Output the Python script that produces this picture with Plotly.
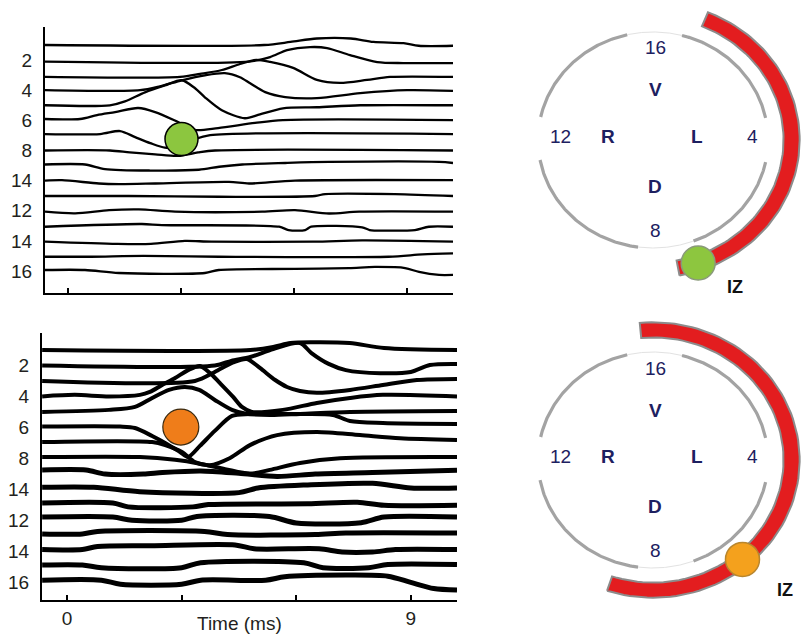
import numpy as np
import plotly.graph_objects as go

# ---------------- data ----------------
channel_tickvals = [2, 4, 6, 8, 10, 12, 14, 16]
channel_ticktext = ["2", "4", "6", "8", "14", "12", "14", "16"]
time_tickvals = [0, 3, 6, 9]
time_ticktext = ["0", "", "", "9"]

# top panel: knot times (ms) and deflections (channel units, + = up) per channel 1..16
top_t = [
    [-0.61, 5.2, 5.9, 6.6, 7.5, 8.1, 8.9, 9.3, 10.21],
    [-0.61, 4.8, 5.36, 5.81, 6.42, 6.87, 7.48, 8.2, 8.89, 10.21],
    [-0.61, 2.97, 3.5, 4.08, 4.56, 4.99, 5.36, 5.97, 6.6, 7.21, 7.93, 8.54, 10.21],
    [-0.61, 1.91, 2.44, 3.02, 3.63, 4.16, 4.56, 4.83, 5.23, 5.76, 6.6, 7.75, 8.99, 10.21],
    [-0.61, 1.11, 1.51, 2.04, 2.57, 3.02, 3.37, 3.63, 4.08, 4.69, 5.09, 5.7, 6.6, 7.75, 10.21],
    [-0.61, 0.32, 0.77, 1.25, 1.86, 2.31, 2.92, 3.37, 3.98, 4.96, 5.7, 10.21],
    [-0.61, 0.85, 1.38, 1.78, 2.18, 2.57, 2.97, 3.37, 3.77, 10.21],
    [-0.61, 1.11, 1.64, 2.31, 2.92, 3.45, 3.9, 10.21],
    [-0.61, 0.45, 0.98, 2.18, 3.47, 4.01, 4.62, 5.76, 6.92, 9.84, 10.21],
    [-0.61, -0.16, 0.82, 1.35, 2.31, 4.27, 4.8, 6.02, 10.21],
    [-0.61, 1.6, 4.0, 6.55, 6.82, 8.67, 10.21],
    [-0.61, 0.19, 1.09, 1.88, 2.84, 5.15, 6.02, 6.92, 7.72, 10.21],
    [-0.61, 1.96, 2.49, 5.6, 5.85, 6.29, 6.45, 7.8, 8.0, 8.41, 9.2, 9.57, 10.21],
    [-0.61, 1.3, 2.2, 3.1, 3.8, 6.5, 7.8, 10.21],
    [-0.61, 0.6, 2.0, 4.0, 8.5, 9.4, 10.21],
    [-0.61, 0.45, 1.35, 3.63, 4.0, 6.02, 7.45, 8.14, 8.94, 9.31, 9.84, 10.21],
]
top_d = [
    [0, 0, 0.2, 0.43, 0.43, 0.2, 0.12, -0.05, -0.05],
    [-0.1, -0.1, 0.2, 0.66, 0.86, 0.8, 0.33, -0.13, -0.2, -0.2],
    [-0.12, -0.12, 0.08, 0.34, 0.74, 1.01, 0.88, 0.48, -0.32, -0.52, -0.32, -0.12, -0.12],
    [0, 0, 0.26, 0.66, 0.99, 1.13, 0.86, 0.46, -0.13, -0.46, -0.53, -0.2, 0, -0.05],
    [0, 0, 0.26, 0.86, 1.32, 1.66, 1.13, 0.53, -0.33, -0.86, -0.6, -0.2, -0.13, 0, 0],
    [0.09, 0.09, 0.35, 0.55, 0.82, 0.55, -0.11, -0.64, -0.51, -0.17, 0.02, 0.02],
    [0.09, 0.09, 0.29, -0.11, -0.51, -0.81, -0.71, -0.24, 0.02, 0.09],
    [0, 0, -0.13, -0.26, -0.36, -0.13, 0, 0],
    [0.07, 0.07, -0.23, -0.33, -0.28, -0.08, 0.07, 0.17, 0.24, 0.24, 0.17],
    [0, 0.03, -0.19, -0.23, -0.19, -0.08, -0.19, 0, 0.03],
    [-0.02, -0.02, -0.07, -0.02, 0.11, 0.11, -0.02],
    [-0.06, -0.17, 0.04, 0.09, -0.06, -0.06, 0.04, -0.18, -0.06, -0.06],
    [-0.06, 0.12, 0.05, -0.06, -0.28, -0.28, -0.06, -0.1, -0.28, -0.32, -0.28, -0.06, -0.06],
    [-0.05, -0.2, -0.2, 0.0, -0.05, -0.05, 0.03, -0.05],
    [-0.05, -0.05, 0.0, -0.05, -0.05, 0.1, 0.17],
    [0.07, 0.07, -0.13, -0.13, 0.07, 0.14, 0.2, 0.27, 0.2, -0.06, -0.26, -0.26],
]

# bottom panel
bot_t = [
    [-0.65, 4.8, 5.4, 5.85, 6.4, 7.4, 8.3, 10.21],
    [-0.65, 3.87, 4.3, 4.8, 5.4, 6.1, 6.4, 6.85, 7.3, 8.2, 9.0, 9.5, 10.21],
    [-0.65, 3.35, 3.87, 4.35, 4.71, 5.05, 5.45, 5.76, 6.1, 6.54, 7.41, 8.27, 9.16, 10.21],
    [-0.65, 0.2, 1.1, 1.91, 2.17, 2.49, 2.83, 3.17, 3.48, 3.74, 4.0, 4.35, 4.58, 4.84, 5.65, 6.54, 7.41, 8.27, 10.21],
    [-0.65, 1.1, 1.78, 2.23, 2.67, 3.09, 3.46, 3.87, 4.32, 4.66, 5.31, 6.1, 7.41, 10.21],
    [-0.65, 1.39, 1.78, 2.23, 2.57, 2.96, 3.17, 3.48, 3.87, 4.32, 4.79, 6.1, 6.96, 7.41, 8.27, 10.21],
    [-0.65, 2.23, 2.57, 3.01, 3.35, 3.74, 4.27, 4.79, 5.5, 6.54, 7.67, 8.72, 10.21],
    [-0.65, 1.91, 2.83, 3.48, 4.14, 4.79, 5.31, 6.1, 7.15, 10.21],
    [-0.65, 0.5, 1.0, 2.0, 2.5, 3.5, 4.5, 5.5, 6.5, 8.0, 10.21],
    [-0.65, 0.7, 1.9, 4.5, 5.0, 6.3, 8.0, 9.0, 10.21],
    [-0.65, 1.2, 1.6, 3.3, 3.7, 6.3, 7.6, 8.3, 10.21],
    [-0.65, 1.2, 1.7, 3.0, 3.4, 5.3, 6.0, 7.7, 8.3, 10.21],
    [-0.65, 0.4, 0.8, 3.6, 4.2, 6.5, 7.3, 10.21],
    [-0.65, 0.4, 0.8, 2.2, 4.4, 4.9, 6.6, 7.2, 8.0, 8.6, 10.21],
    [-0.65, 0.4, 0.9, 3.0, 3.5, 6.2, 6.7, 7.9, 8.4, 10.21],
    [-0.65, 0.9, 1.4, 3.0, 3.5, 5.2, 5.7, 7.3, 8.4, 9.0, 9.6, 10.21],
]
bot_d = [
    [0, 0, 0.2, 0.45, 0.5, 0.45, 0.13, 0],
    [0, 0, 0.3, 0.55, 1.06, 1.45, 0.8, 0.1, -0.3, -0.5, -0.42, 0.03, 0.1],
    [0, 0, 0.58, 1.2, 1.42, 0.84, 0.06, -0.39, -0.65, -0.77, -0.58, -0.26, 0.06, 0.13],
    [0, 0.1, 0, 0.1, 0.29, 0.74, 1.19, 1.7, 1.97, 1.52, 0.87, -0.03, -0.68, -1.0, -0.87, -0.42, -0.1, 0.1, 0],
    [0, 0.13, 0.32, 0.9, 1.42, 1.61, 1.42, 0.77, 0.13, -0.1, -0.2, -0.13, 0, 0.06],
    [0.05, 0.05, -0.04, -0.56, -1.01, -1.59, -1.91, -1.2, -0.23, 0.74, 0.86, 0.86, 0.8, 0.41, 0.28, 0.22],
    [0.05, 0.05, -0.15, -0.6, -1.25, -1.45, -0.98, -0.15, 0.5, 0.7, 0.5, 0.3, 0.18],
    [0.08, 0.08, -0.1, -0.35, -0.7, -1.0, -0.75, -0.3, 0.0, 0.08],
    [0.24, 0.24, -0.02, -0.02, 0.08, 0.18, 0.03, -0.17, -0.02, 0.08, 0.23],
    [0.13, 0.13, -0.16, -0.22, 0.08, 0.28, 0.38, 0.08, 0.08],
    [0.11, 0.11, -0.14, -0.14, 0.01, 0.06, 0.16, -0.04, -0.04],
    [0.2, 0.2, -0.01, -0.01, 0.24, 0.24, -0.18, -0.16, 0.2, 0.2],
    [0.11, 0.11, 0.27, 0.27, 0.07, 0.07, 0.17, 0.17],
    [0.1, 0.1, 0.3, 0.35, 0.4, 0.15, 0.15, -0.06, -0.06, 0.1, 0.1],
    [0.1, 0.1, -0.07, -0.07, 0.25, 0.25, -0.07, -0.07, 0.14, 0.14],
    [0.12, 0.12, -0.14, -0.14, 0.12, 0.12, 0.34, 0.45, 0.38, -0.02, -0.42, -0.52],
]

# innervation zone positions on the traces (time ms, channel)
top_iz_time, top_iz_channel = 3.01, 7.24
bot_iz_time, bot_iz_channel = 2.98, 5.98

# electrode ring diagrams (angles in degrees)
ring_arcs = [(11.8, 75.4), (103.0, 167.7), (190.7, 262.5), (290.6, 348.2)]
ring_bridges = [(75.4, 103.0), (262.5, 290.6)]
top_band = (-79.6, 68.0)
bot_band = (-108.3, 95.2)
top_iz_angle = -71.0
bot_iz_angle = -49.8
ring_labels = [("16", 0.017, 0.852, False), ("V", 0.017, 0.463, True),
               ("12", -0.809, 0.028, False), ("R", -0.391, 0.028, True),
               ("L", 0.383, 0.028, True), ("4", 0.861, 0.028, False),
               ("D", 0.017, -0.435, True), ("8", 0.017, -0.84, False)]
top_iz_label = (0.713, -1.361)
bot_iz_label = (1.148, -1.204)

# ---------------- figure ----------------
FONT = "Liberation Sans, Arial, sans-serif"
NAVY = "#1d2060"
fig = go.Figure()

for k in range(16):
    fig.add_trace(go.Scatter(
        x=top_t[k], y=[k + 1 - v for v in top_d[k]], mode="lines",
        line=dict(color="black", width=2.3, shape="spline", smoothing=0.8),
        xaxis="x", yaxis="y", hoverinfo="skip", showlegend=False))
for k in range(16):
    fig.add_trace(go.Scatter(
        x=bot_t[k], y=[k + 1 - v for v in bot_d[k]], mode="lines",
        line=dict(color="black", width=4.0 if k < 8 else 5.0, shape="spline", smoothing=0.8),
        xaxis="x2", yaxis="y2", hoverinfo="skip", showlegend=False))

# IZ markers on the traces
fig.add_trace(go.Scatter(x=[top_iz_time], y=[top_iz_channel], mode="markers",
                         marker=dict(size=33, color="#8cc63f", line=dict(color="black", width=1.5)),
                         xaxis="x", yaxis="y", hoverinfo="skip", showlegend=False))
fig.add_trace(go.Scatter(x=[bot_iz_time], y=[bot_iz_channel], mode="markers",
                         marker=dict(size=36, color="#ef7d1a", line=dict(color="#3a2a10", width=1.2)),
                         xaxis="x2", yaxis="y2", hoverinfo="skip", showlegend=False))


def arc(a0, a1, r, n=90):
    a = np.radians(np.linspace(a0, a1, n))
    return r * np.cos(a), r * np.sin(a)


def diagram(xa, ya, band, iz_angle, iz_color, iz_line, iz_label):
    for a0, a1 in ring_bridges:
        x, y = arc(a0, a1, 1.0)
        fig.add_trace(go.Scatter(x=x, y=y, mode="lines", line=dict(color="#e2e2e2", width=1),
                                 xaxis=xa, yaxis=ya, hoverinfo="skip", showlegend=False))
    for a0, a1 in ring_arcs:
        x, y = arc(a0, a1, 1.0)
        fig.add_trace(go.Scatter(x=x, y=y, mode="lines", line=dict(color="#a3a3a3", width=3.2),
                                 xaxis=xa, yaxis=ya, hoverinfo="skip", showlegend=False))
    xo, yo = arc(band[0], band[1], 1.275)
    xi, yi = arc(band[1], band[0], 1.135)
    bx = np.concatenate([xo, xi, xo[:1]])
    by = np.concatenate([yo, yi, yo[:1]])
    fig.add_trace(go.Scatter(x=bx, y=by, mode="lines", fill="toself", fillcolor="#e31d1f",
                             line=dict(color="#8c8c8c", width=2),
                             xaxis=xa, yaxis=ya, hoverinfo="skip", showlegend=False))
    r = 1.205
    fig.add_trace(go.Scatter(x=[r * np.cos(np.radians(iz_angle))], y=[r * np.sin(np.radians(iz_angle))],
                             mode="markers", marker=dict(size=34, color=iz_color, line=dict(color=iz_line, width=1.5)),
                             xaxis=xa, yaxis=ya, hoverinfo="skip", showlegend=False))
    for txt, x, y, bold in ring_labels:
        fig.add_annotation(x=x, y=y, xref=xa, yref=ya, text=f"<b>{txt}</b>" if bold else txt,
                           showarrow=False, xanchor="center", yanchor="middle",
                           font=dict(family=FONT, size=19, color=NAVY))
    fig.add_annotation(x=iz_label[0], y=iz_label[1], xref=xa, yref=ya, text="<b>IZ</b>",
                       showarrow=False, xanchor="center", yanchor="middle",
                       font=dict(family=FONT, size=18, color="#111111"))


diagram("x3", "y3", top_band, top_iz_angle, "#8dc63f", "#8a9a7a", top_iz_label)
diagram("x4", "y4", bot_band, bot_iz_angle, "#f4a11d", "#b8862e", bot_iz_label)

fig.add_annotation(x=239 / 803, y=1 - 623 / 638, xref="paper", yref="paper", text="Time (ms)",
                   showarrow=False, xanchor="center", yanchor="middle",
                   font=dict(family=FONT, size=19, color="#231f20"))

xcommon = dict(showgrid=False, zeroline=False, showline=True, linecolor="black", linewidth=2,
               ticks="inside", tickvals=time_tickvals, ticklen=5, tickwidth=1.5, tickcolor="black",
               tickfont=dict(family=FONT, size=19, color="#231f20"))
ycommon = dict(showgrid=False, zeroline=False, showline=True, linecolor="black", linewidth=2,
               ticks="outside", ticklen=7, tickcolor="rgba(0,0,0,0)",
               tickvals=channel_tickvals, ticktext=channel_ticktext,
               tickfont=dict(family=FONT, size=19, color="#231f20"))
hidden = dict(visible=False, showgrid=False, zeroline=False)

fig.update_layout(
    width=803, height=638, margin=dict(l=0, r=0, t=0, b=0),
    paper_bgcolor="white", plot_bgcolor="rgba(0,0,0,0)", showlegend=False,
    xaxis=dict(domain=[45 / 803, 453 / 803], range=[-0.61, 10.21], anchor="y",
               showticklabels=False, **xcommon),
    yaxis=dict(domain=[1 - 293 / 638, 1 - 27 / 638], range=[17.457, -0.194], anchor="x", **ycommon),
    xaxis2=dict(domain=[42 / 803, 457 / 803], range=[-0.654, 10.21], anchor="y2",
                ticktext=time_ticktext, **xcommon),
    yaxis2=dict(domain=[1 - 600 / 638, 1 - 333 / 638], range=[17.16, -0.099], anchor="x2", **ycommon),
    xaxis3=dict(domain=[520 / 803, 1.0], range=[-1.157, 1.304], anchor="y3", **hidden),
    yaxis3=dict(domain=[1 - 310 / 638, 1.0], range=[-1.574, 1.296], anchor="x3", **hidden),
    xaxis4=dict(domain=[520 / 803, 1.0], range=[-1.157, 1.304], anchor="y4", **hidden),
    yaxis4=dict(domain=[0.0, 1 - 310 / 638], range=[-1.648, 1.389], anchor="x4", **hidden),
)

fig.write_html("out.html", config={"displayModeBar": False},
               post_script="document.body.style.margin='0';document.body.style.overflow='hidden';")
